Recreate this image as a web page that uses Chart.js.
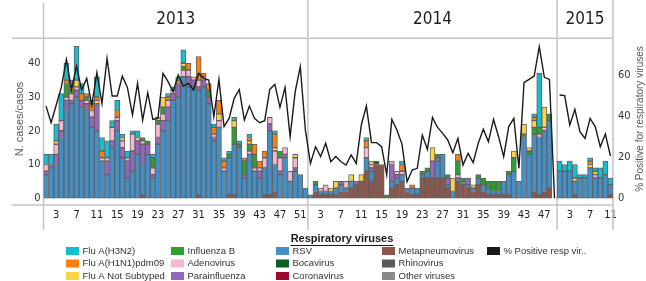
<!DOCTYPE html>
<html>
<head>
<meta charset="utf-8">
<script src="https://cdn.jsdelivr.net/npm/chart.js@4.4.1/dist/chart.umd.min.js"></script>
<style>
	html, body { margin: 0; padding: 0; background: #fff; }
	#wrap { width: 646px; height: 281px; }
</style>
</head>
<body>
<div id="wrap"><canvas id="resp-chart" width="646" height="281"></canvas></div>
<script>
	// epidemiological weeks shown for each season
	var years = ['2013', '2014', '2015'];
	var weeks2013 = [1,2,3,4,5,6,7,8,9,10,11,12,13,14,15,16,17,18,19,20,21,22,23,24,25,26,27,28,29,30,31,32,33,34,35,36,37,38,39,40,41,42,43,44,45,46,47,48,49,50,51,52];
	var weeks2014 = [1,2,3,4,5,6,7,8,9,10,11,12,13,14,15,16,17,18,19,20,21,22,23,24,25,26,27,28,29,30,31,32,33,34,35,36,37,38,39,40,41,42,43,44,45,46,47,48,49];
	var weeks2015 = [1,2,3,4,5,6,7,8,9,10,11];
	var shownWeeks = [3, 7, 11, 15, 19, 23, 27, 31, 35, 39, 43, 47, 51];

	// cases per virus (2013 w1-52, 2014 w1-49, 2015 w1-11)
	var metapneumovirus = [
		0,0,0,0,0,0,0,0,0,0, 0,0,0,0,0,0,0,0,0,1, 0,0,0,0,0,0,0,0,0,0, 1,0,0,0,0,0,1,1,0,0, 0,0,0,1,1,2,0,0,0,0, 0,0,
		0,2,1,1,1,1,2,2,3,4, 5,8,5,10,10,0,3,4,5,2, 1,1,6,6,6,6,6,3,0,5, 4,3,2,4,2,1,1,1,1,1, 0,0,0,0,2,1,2,3,0,
		0,0,0,1,0,0,0,0,0,0,1
	];
	var rsv = [
		7,9,10,18,26,28,30,27,26,21, 20,11,7,15,20,12,6,8,13,9, 13,6,16,20,23,29,30,36,33,33, 31,33,28,17,21,8,11,15,15,6, 13,8,6,8,19,8,7,12,5,8, 7,3,
		1,2,1,1,1,2,2,1,2,0, 0,4,3,0,0,0,2,2,2,1, 2,2,1,2,0,5,7,1,2,1, 1,1,1,2,2,2,1,1,4,6, 8,5,18,13,17,17,18,20,0,
		8,8,8,4,6,6,9,6,6,7,3
	];
	var parainfluenza = [
		1,1,3,2,3,1,2,2,2,3, 8,0,4,2,3,3,5,6,4,6, 3,1,2,3,4,2,4,0,3,2, 1,2,2,1,0,0,0,0,0,1, 0,0,2,0,2,0,1,1,0,1, 0,0,
		0,0,0,0,0,0,1,0,0,1, 0,0,1,0,0,0,5,1,0,0, 0,0,0,0,5,1,0,2,0,0, 0,2,0,0,0,0,0,0,0,0, 0,0,0,0,0,0,0,0,0,
		0,0,0,0,0,0,0,0,0,0,0
	];
	var adenovirus = [
		2,0,3,3,1,2,1,0,1,2, 0,1,1,4,1,2,1,5,1,1, 0,2,4,2,2,1,0,2,2,1, 2,1,0,1,2,1,0,0,0,0, 1,1,1,3,2,4,4,2,3,3, 0,0,
		0,0,1,2,0,0,0,2,0,0, 0,3,1,0,0,0,1,1,1,0, 0,0,0,0,0,0,0,0,0,1, 0,0,0,0,0,0,0,0,0,0, 0,0,0,0,0,1,1,0,0,
		0,0,0,0,0,0,0,1,0,0,0
	];
	var influenzaB = [
		0,0,0,0,4,1,0,0,1,0, 0,0,0,0,0,0,0,0,0,1, 1,3,1,2,0,0,0,1,0,0, 0,0,2,0,0,0,1,5,1,4, 2,4,0,0,0,0,2,0,0,0, 0,0,
		0,1,0,0,0,0,0,0,0,0, 0,0,0,0,0,1,0,0,0,0, 0,0,1,1,0,1,0,1,0,4, 1,0,0,1,2,2,3,3,0,1, 4,0,1,1,2,2,0,2,0,
		0,0,0,0,0,0,0,0,0,0,0
	];
	var fluANotSubtyped = [
		0,0,1,0,0,0,2,0,0,0, 1,0,0,0,0,1,0,0,0,0, 0,0,1,3,0,0,0,1,0,0, 0,0,0,0,2,0,0,2,0,0, 1,0,0,0,0,1,0,0,0,1, 0,0,
		0,0,0,0,1,2,0,0,2,0, 2,0,1,0,0,0,0,0,0,0, 0,0,0,0,4,0,0,0,4,0, 0,0,1,0,0,0,0,0,0,0, 2,0,3,1,2,0,6,0,0,
		0,0,0,1,0,0,1,1,0,0,0
	];
	var fluAH1N1 = [
		0,0,0,0,1,1,0,2,1,2, 1,2,0,0,2,0,0,0,0,0, 0,0,0,0,1,0,1,0,2,0, 7,1,2,2,4,2,0,0,0,1, 1,3,2,2,0,4,0,0,0,0, 0,0,
		0,0,0,0,0,0,0,0,0,0, 0,2,0,0,0,0,0,0,2,0, 1,0,0,0,0,0,0,0,0,2, 0,0,0,0,0,0,0,0,0,0, 0,0,0,0,1,0,0,0,0,
		0,0,0,0,0,0,1,0,0,0,0
	];
	var fluAH3N2 = [
		3,3,5,8,5,2,10,3,0,1, 6,4,5,2,3,1,2,1,2,0, 0,1,0,0,1,1,1,4,0,0, 0,0,0,1,0,1,1,1,1,0, 1,0,0,0,0,1,0,0,0,0, 0,0,
		0,0,0,0,0,0,0,0,0,0, 0,1,0,0,0,0,0,0,1,0, 0,0,0,0,0,0,0,0,0,0, 0,0,0,0,0,0,0,0,0,0, 0,0,0,0,1,16,0,0,0,
		3,2,3,4,1,1,1,1,3,4,2
	];
	var bocavirus = [
		0,0,0,0,0,0,0,0,0,0, 0,0,0,0,0,0,0,0,0,0, 0,0,0,0,0,0,0,0,0,0, 0,0,0,0,0,0,0,0,0,0, 0,0,0,0,0,0,0,0,0,0, 0,0,
		0,0,0,0,0,0,0,0,0,0, 0,0,0,1,0,0,0,0,0,0, 0,0,0,0,0,0,0,0,0,0, 0,0,0,0,0,0,0,0,0,0, 0,0,0,0,0,0,0,0,0,
		0,0,0,0,0,0,0,0,0,0,0
	];
	var coronavirus = [];
	var rhinovirus = [];
	var otherViruses = [];

	// % positive samples (right axis)
	var pctPositive = [
		44.9,36.8,45.4,54,67.6,53,64.4,52.7,58.4,45.4, 61.2,46.2,68.1,49.8,49.8,59.5,54,40.6,56,38.1, 51.4,38.4,38.9,60.8,56.8,51.9,60,54.7,56,52.7,
		60.8,58.4,57.6,39.7,57.9,34.9,38.9,48.7,53,38.1, 44.9,38.9,36.8,37.8,53,55.5,44.3,54,30,51.9, 64.1,33.3,
		17,25.1,20.3,26.8,17.8,20.3,17.8,16.2,21.1,17, 35.7,44.9,27.1,27.1,25.1,11.4,38.4,33.3,26.4,8.1, 13.8,14.6,30.8,23.8,39.4,34.5,31.6,28.4,22.2,29.2,
		16.2,21.9,17.4,26.8,33.6,27.6,38.4,30,20.3,34.9, 38.9,14.6,56.3,57.9,59.5,73.8,58.9,57.9,0,
		50.3,50,35.7,43.3,32.4,29.2,38.9,34.9,25.1,31.3,20.6
	];

	var yearWeeks = [weeks2013, weeks2014, weeks2015];
	var allWeeks = weeks2013.concat(weeks2014, weeks2015);

	var narrow = '"Liberation Sans Narrow", "Arial Narrow", "DejaVu Sans Condensed", sans-serif';
	var sans = '"Liberation Sans", Arial, sans-serif';

	var legendCols = [
		['Flu A(H3N2)', 'Flu A(H1N1)pdm09', 'Flu A Not Subtyped'],
		['Influenza B', 'Adenovirus', 'Parainfluenza'],
		['RSV', 'Bocavirus', 'Coronavirus'],
		['Metapneumovirus', 'Rhinovirus', 'Other viruses'],
		['% Positive resp vir..']
	];

	function barSet(label, data, color) {
		return {
			label: label,
			data: data,
			backgroundColor: color,
			borderColor: '#626262',
			borderWidth: 1,
			borderSkipped: false,
			barPercentage: 1,
			categoryPercentage: 1,
			stack: 'viruses',
			order: 1
		};
	}

	// frame, year headers, axis titles and the custom legend
	var framePlugin = {
		id: 'yearFrame',
		beforeDatasetsDraw: function(chart) {
			var ctx = chart.ctx, xs = chart.scales.x, a = chart.chartArea;
			var half = (xs.getPixelForValue(1) - xs.getPixelForValue(0)) / 2;
			var cuts = [a.left], n = 0;
			yearWeeks.forEach(function(w) {
				n += w.length;
				cuts.push(n < allWeeks.length ? xs.getPixelForValue(n) - half : a.right);
			});

			ctx.save();
			ctx.strokeStyle = '#c4c4c4';
			ctx.lineWidth = 1.5;
			ctx.beginPath();
			ctx.moveTo(12, a.top); ctx.lineTo(a.right, a.top);
			ctx.moveTo(12, a.bottom); ctx.lineTo(a.right, a.bottom);
			cuts.forEach(function(x, i) {
				ctx.moveTo(x, i === 0 ? 3 : 0);
				ctx.lineTo(x, 230);
			});
			ctx.stroke();

			ctx.fillStyle = '#1e1e1e';
			ctx.font = '17px ' + narrow;
			ctx.textAlign = 'center';
			ctx.textBaseline = 'middle';
			years.forEach(function(y, i) {
				ctx.fillText(y, (cuts[i] + cuts[i + 1]) / 2, 20);
			});
			ctx.restore();
		},
		afterDraw: function(chart) {
			var ctx = chart.ctx;
			ctx.save();

			// axis titles, both read bottom to top
			ctx.fillStyle = '#595959';
			ctx.textAlign = 'center';
			ctx.textBaseline = 'middle';
			ctx.font = '11px ' + sans;
			ctx.translate(20, 119); ctx.rotate(-Math.PI / 2);
			ctx.fillText('N. cases/casos', 0, 0);
			ctx.setTransform(1, 0, 0, 1, 0, 0);
			ctx.font = '10px ' + sans;
			ctx.translate(640, 119); ctx.rotate(-Math.PI / 2);
			ctx.fillText('% Positive for respiratory viruses', 0, 0);
			ctx.setTransform(1, 0, 0, 1, 0, 0);

			// legend title
			ctx.fillStyle = '#1a1a1a';
			ctx.font = 'bold 11px ' + sans;
			var title = 'Respiratory viruses';
			var tw = ctx.measureText(title).width;
			ctx.fillText(title, 342, 239);
			ctx.fillRect(342 - tw / 2, 245, tw, 1);

			// legend items, column by column
			var colX = [66, 171, 276, 382, 487];
			var rowY = [251, 263.5, 276];
			ctx.font = '9.5px ' + sans;
			ctx.textAlign = 'left';
			legendCols.forEach(function(col, c) {
				col.forEach(function(label, r) {
					var ds = chart.data.datasets.find(function(d) { return d.label === label; });
					if (!ds) return;
					ctx.fillStyle = ds.type === 'line' ? ds.borderColor : ds.backgroundColor;
					ctx.fillRect(colX[c], rowY[r] - 4, 13, 8);
					ctx.fillStyle = '#333';
					ctx.fillText(label, colX[c] + 16.5, rowY[r]);
				});
			});
			ctx.restore();
		}
	};

	var gapIndex = weeks2013.length + weeks2014.length - 1;

	new Chart(document.getElementById('resp-chart'), {
		type: 'bar',
		data: {
			labels: allWeeks.map(String),
			datasets: [
				{
					type: 'line',
					label: '% Positive resp vir..',
					data: pctPositive,
					yAxisID: 'y2',
					borderColor: '#1a1a1a',
					borderWidth: 1.4,
					pointRadius: 0,
					tension: 0,
					order: 0,
					segment: {
						borderColor: function(c) { return c.p0DataIndex === gapIndex ? 'transparent' : undefined; }
					}
				},
				barSet('Other viruses', otherViruses, '#8a8a8a'),
				barSet('Rhinovirus', rhinovirus, '#595959'),
				barSet('Metapneumovirus', metapneumovirus, '#8c564b'),
				barSet('Coronavirus', coronavirus, '#9b0a2a'),
				barSet('Bocavirus', bocavirus, '#0d5e20'),
				barSet('RSV', rsv, '#4490c6'),
				barSet('Parainfluenza', parainfluenza, '#9467bd'),
				barSet('Adenovirus', adenovirus, '#f7b6d2'),
				barSet('Influenza B', influenzaB, '#2ca02c'),
				barSet('Flu A Not Subtyped', fluANotSubtyped, '#fbd44a'),
				barSet('Flu A(H1N1)pdm09', fluAH1N1, '#ff7f0e'),
				barSet('Flu A(H3N2)', fluAH3N2, '#17becf')
			]
		},
		options: {
			responsive: false,
			animation: false,
			events: [],
			layout: { padding: { top: 38.3, left: 0, right: 0, bottom: 0 } },
			plugins: { legend: { display: false }, tooltip: { enabled: false } },
			scales: {
				x: {
					stacked: true,
					grid: { display: false, drawTicks: false },
					border: { display: false },
					ticks: {
						autoSkip: false,
						maxRotation: 0,
						padding: 4,
						color: '#222',
						font: { family: narrow, size: 11 },
						callback: function(value, index) {
							var w = allWeeks[index];
							return shownWeeks.indexOf(w) >= 0 ? String(w) : '';
						}
					},
					afterFit: function(scale) { scale.height = 76; }
				},
				y: {
					stacked: true,
					min: -2,
					max: 47.4,
					grid: { display: false, drawTicks: false },
					border: { display: false },
					ticks: { stepSize: 10, includeBounds: false, padding: 3, color: '#333', font: { family: narrow, size: 11 } },
					afterBuildTicks: function(scale) {
						scale.ticks = scale.ticks.filter(function(t) { return t.value >= 0 && t.value % 10 === 0; });
					},
					afterFit: function(scale) { scale.width = 43.5; }
				},
				y2: {
					position: 'right',
					min: -3.26,
					max: 77.9,
					grid: { display: false, drawTicks: false },
					border: { display: false },
					ticks: { stepSize: 20, includeBounds: false, padding: 5, color: '#333', font: { family: narrow, size: 11 } },
					afterBuildTicks: function(scale) {
						scale.ticks = scale.ticks.filter(function(t) { return t.value >= 0 && t.value % 20 === 0; });
					},
					afterFit: function(scale) { scale.width = 33; }
				}
			}
		},
		plugins: [framePlugin]
	});
</script>
</body>
</html>
